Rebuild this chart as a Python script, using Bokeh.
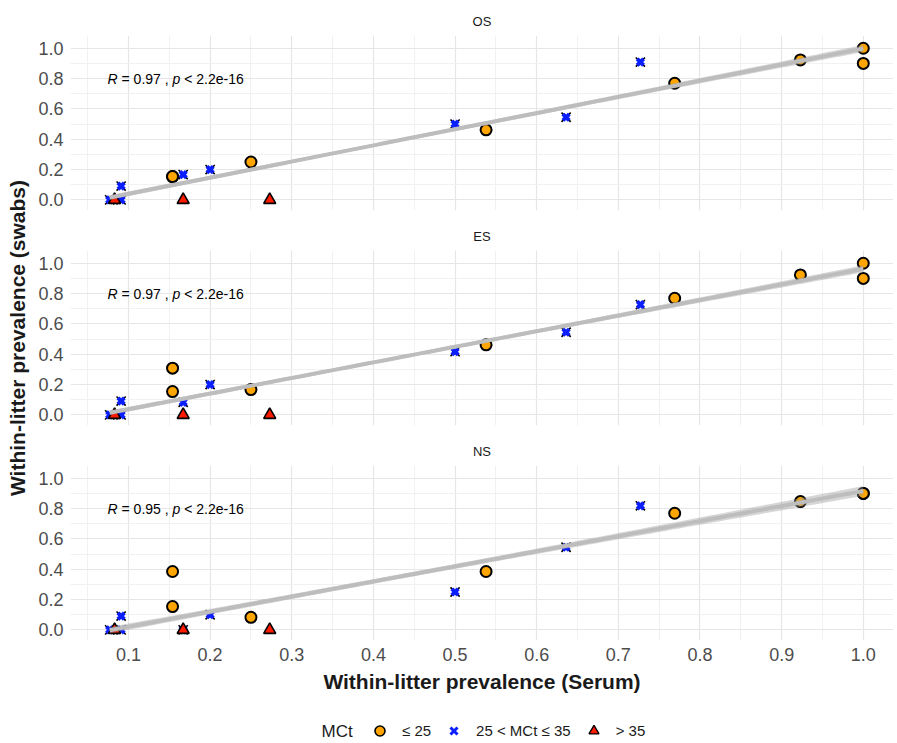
import numpy as np
from bokeh.plotting import figure
from bokeh.models import (ColumnDataSource, FixedTicker, Label, Legend, LegendItem,
                          Range1d, PrintfTickFormatter)
from bokeh.layouts import row, column
from bokeh.embed import file_html
from bokeh.resources import INLINE

# ---------------- data ----------------
panels = ["OS", "ES", "NS"]
serum = [0.077, 0.083, 0.091, 0.091, 0.154, 0.154, 0.167, 0.167, 0.200, 0.250,
         0.273, 0.500, 0.538, 0.636, 0.727, 0.769, 0.923, 1.000, 1.000]
# piglets per litter (denominators implied by the prevalences)
litter_size = [13, 12, 11, 11, 13, 13, 12, 12, 10, 12,
               11, 12, 13, 11, 11, 13, 13, 10, 10]
mct = ["b", "r", "b", "b", "o", "o", "b", "r", "b", "o",
       "r", "b", "o", "b", "b", "o", "o", "o", "o"]
os_swab = [0.0, 0.0, 0.0, 0.091, 0.154, 0.154, 0.167, 0.0, 0.200, 0.250,
           0.0, 0.500, 0.462, 0.545, 0.909, 0.769, 0.923, 1.000, 0.900]
es_swab = [0.0, 0.0, 0.0, 0.091, 0.308, 0.154, 0.083, 0.0, 0.200, 0.167,
           0.0, 0.417, 0.462, 0.545, 0.727, 0.769, 0.923, 1.000, 0.900]
ns_swab = [0.0, 0.0, 0.0, 0.091, 0.385, 0.154, 0.0, 0.0, 0.100, 0.083,
           0.0, 0.250, 0.385, 0.545, 0.818, 0.769, 0.846, 0.900, 0.900]
r_values = ["0.97", "0.97", "0.95"]
p_text = "2.2e-16"
legend_cats = ["o", "b", "r"]
legend_labels = ["\u2264 25", "25 < MCt \u2264 35", "> 35"]
legend_title = "MCt"
x_ticks = [0.1, 0.2, 0.3, 0.4, 0.5, 0.6, 0.7, 0.8, 0.9, 1.0]
x_minor = [0.05, 0.15, 0.25, 0.35, 0.45, 0.55, 0.65, 0.75, 0.85, 0.95]
y_ticks = [0.0, 0.2, 0.4, 0.6, 0.8, 1.0]
y_minor = [0.1, 0.3, 0.5, 0.7, 0.9]
swabs = [os_swab, es_swab, ns_swab]

FONT = "Liberation Sans"
T975 = 1.97  # t quantile for ~225 df
NB = "\u00a0"

ORANGE, BLUE, RED = "#FFA500", "#0a1eff", "#ff1a00"

xr = Range1d(0.029, 1.037)
FW, FH = 823, 175
BL = 36


def lm_band(x, y, w, n=100):
    x = np.asarray(x, float)
    y = np.asarray(y, float)
    w = np.asarray(w, float)
    W = w.sum()
    xm = (w * x).sum() / W
    ym = (w * y).sum() / W
    sxx = (w * (x - xm) ** 2).sum()
    b = (w * (x - xm) * (y - ym)).sum() / sxx
    a = ym - b * xm
    resid = y - (a + b * x)
    s = np.sqrt((w * resid ** 2).sum() / (W - 2))
    xs = np.linspace(x.min(), x.max(), n)
    fit = a + b * xs
    se = s * np.sqrt(1.0 / W + (xs - xm) ** 2 / sxx)
    return xs, fit, fit - T975 * se, fit + T975 * se


def style_axis(ax):
    ax.formatter = PrintfTickFormatter(format="%.1f")
    ax.axis_line_color = None
    ax.major_tick_line_color = None
    ax.minor_tick_line_color = None
    ax.major_tick_out = 0
    ax.major_tick_in = 0
    ax.minor_tick_out = 0
    ax.minor_tick_in = 0
    ax.major_label_standoff = 7
    ax.major_label_text_font = FONT
    ax.major_label_text_font_size = "18px"
    ax.major_label_text_color = "#4d4d4d"


def marker_style(cat):
    if cat == "o":
        return [dict(marker="circle", size=11, fill_color=ORANGE,
                     line_color="black", line_width=2)]
    if cat == "b":
        return [dict(marker="x", size=13, line_color="black", line_width=1.6),
                dict(marker="x", size=9, line_color=BLUE, line_width=4)]
    return [dict(marker="triangle", size=12, fill_color=RED,
                 line_color="black", line_width=1.6)]


def make_panel(name, yvals, rval, last):
    p = figure(frame_width=FW, frame_height=FH, x_range=xr,
               y_range=Range1d(-0.07, 1.084), output_backend="svg",
               toolbar_location=None, title=name,
               x_axis_location="below" if last else None,
               min_border_left=BL, min_border_right=0, min_border_top=35,
               min_border_bottom=66 if last else 5)
    p.outline_line_color = None
    p.background_fill_color = "white"
    p.border_fill_color = "white"
    p.title.align = "center"
    p.title.text_font = FONT
    p.title.text_font_size = "13px"
    p.title.text_font_style = "normal"
    p.title.text_color = "#1a1a1a"
    p.title.standoff = 14

    xt = FixedTicker(ticks=x_ticks, minor_ticks=x_minor)
    yt = FixedTicker(ticks=y_ticks, minor_ticks=y_minor)
    p.xgrid.ticker = xt
    p.ygrid.ticker = yt
    for g in (p.xgrid, p.ygrid):
        g.grid_line_color = "#e6e6e6"
        g.grid_line_width = 1.2
        g.minor_grid_line_color = "#efefef"
        g.minor_grid_line_width = 0.9

    ax = p.yaxis[0]
    ax.ticker = yt
    style_axis(ax)

    if last:
        bx = p.xaxis[0]
        bx.ticker = xt
        style_axis(bx)
        bx.axis_label = "Within-litter prevalence (Serum)"
        bx.axis_label_text_font = FONT
        bx.axis_label_text_font_size = "21px"
        bx.axis_label_text_font_style = "bold"
        bx.axis_label_text_color = "#1a1a1a"
        bx.axis_label_standoff = 6

    xs_all = np.asarray(serum)
    ys_all = np.asarray(yvals)
    cats = np.asarray(mct)
    for cat in ["o", "b", "r"]:
        src = ColumnDataSource(dict(x=xs_all[cats == cat], y=ys_all[cats == cat]))
        for kw in marker_style(cat):
            p.scatter("x", "y", source=src, **kw)

    xs, fit, lo, hi = lm_band(serum, yvals, litter_size)
    p.varea(x=xs, y1=lo, y2=hi, fill_color="#999999", fill_alpha=0.4)
    p.line(xs, fit, line_color="#bdbdbd", line_width=4)

    # stat_cor style annotation (italic R and p)
    fs = 14
    k = fs / 12.0
    x0, y0 = 0.0743, 0.80
    segs = [("R", "italic", 0.0),
            (NB + "=" + NB + rval + NB + "," + NB, "normal", 8.7 * k),
            ("p", "italic", (8.7 + 47.0) * k),
            (NB + "<" + NB + p_text, "normal", (8.7 + 47.0 + 6.7) * k)]
    for txt, style, off in segs:
        p.add_layout(Label(x=x0, y=y0, x_offset=off, text=txt, text_font=FONT,
                           text_font_size="%dpx" % fs, text_font_style=style,
                           text_color="black", text_baseline="middle",
                           text_align="left"))
    return p


figs = [make_panel(panels[i], swabs[i], r_values[i], i == 2) for i in range(3)]

# legend strip (its renderers hold one real point each, outside the strip's view)
LH = 37
leg = figure(frame_width=FW, frame_height=LH, x_range=Range1d(70, 70 + FW),
             y_range=Range1d(0, LH), output_backend="svg", toolbar_location=None,
             x_axis_location=None, y_axis_location=None,
             min_border_left=BL, min_border_right=0, min_border_top=0,
             min_border_bottom=0)
leg.outline_line_color = None
leg.grid.visible = False
leg_styles = {"o": dict(marker="circle", fill_color=ORANGE, line_color="black", line_width=1.6),
              "b": dict(marker="x", line_color=BLUE, line_width=3),
              "r": dict(marker="triangle", fill_color=RED, line_color="black", line_width=1.4)}
items = []
for cat, lab in zip(legend_cats, legend_labels):
    i0 = mct.index(cat)
    src = ColumnDataSource(dict(x=[serum[i0]], y=[os_swab[i0]]))
    rr = leg.scatter("x", "y", source=src, size=10, **leg_styles[cat])
    items.append(LegendItem(label=lab, renderers=[rr]))
legend = Legend(items=items, orientation="horizontal", location=(297, 0))
legend.margin = 0
legend.padding = 0
legend.spacing = 10
legend.glyph_width = 25
legend.glyph_height = 25
legend.label_height = 25
legend.label_standoff = 10
legend.label_text_font = FONT
legend.label_text_font_size = "15px"
legend.label_text_color = "#1a1a1a"
legend.label_text_baseline = "middle"
legend.border_line_color = None
legend.background_fill_alpha = 0
leg.add_layout(legend, "center")
leg.add_layout(Label(x=321, y=12.5, text=legend_title, text_font=FONT,
                     text_font_size="17px", text_color="#1a1a1a",
                     text_baseline="middle", text_align="left"))

TOTAL_H = 743
ylab = figure(width=34, height=TOTAL_H, x_range=Range1d(0, 34),
              y_range=Range1d(0, TOTAL_H), output_backend="svg",
              toolbar_location=None, x_axis_location=None, y_axis_location=None,
              min_border=0)
ylab.outline_line_color = None
ylab.grid.visible = False
ylab.add_layout(Label(x=16.5, y=TOTAL_H - 337.5, text="Within-litter prevalence (swabs)",
                      angle=np.pi / 2, text_align="center", text_baseline="middle",
                      text_font=FONT, text_font_size="21px", text_font_style="bold",
                      text_color="#1a1a1a"))

layout = row(ylab, column(*figs, leg))
open("out.html", "w").write(file_html(layout, INLINE))
